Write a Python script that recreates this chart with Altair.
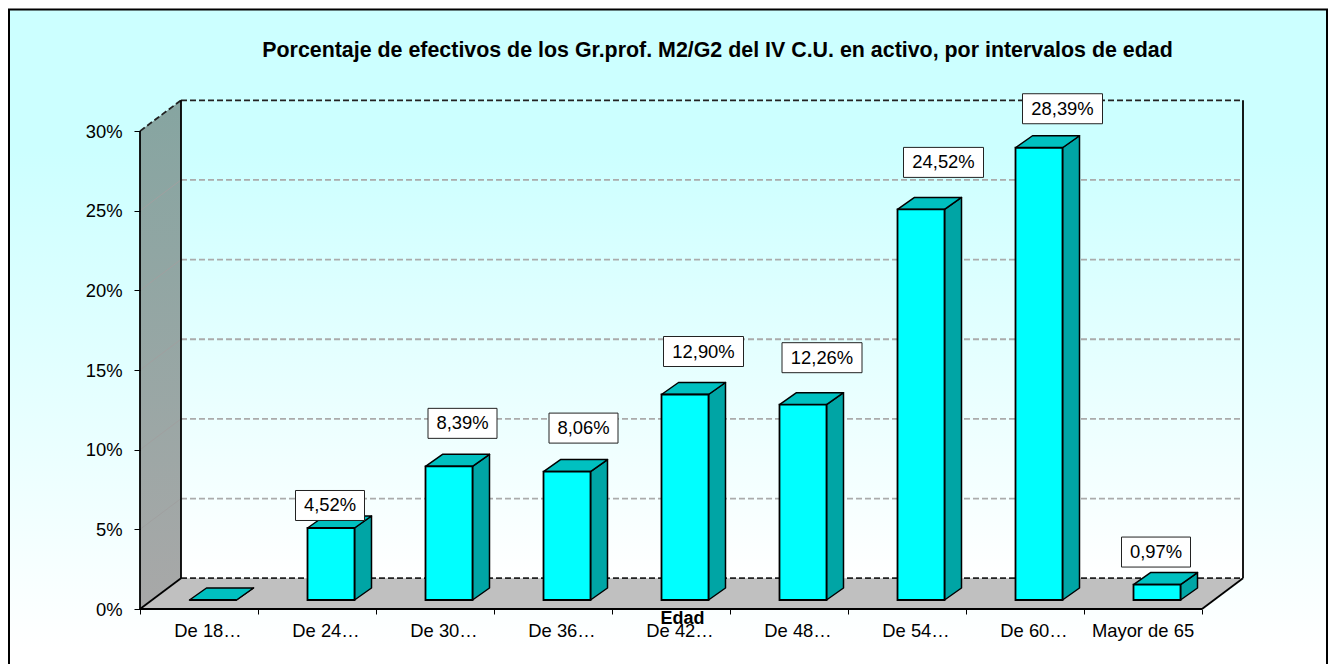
import altair as alt
import pandas as pd

# ---- chart values ----
categories = ["De 18…", "De 24…", "De 30…", "De 36…", "De 42…", "De 48…", "De 54…", "De 60…", "Mayor de 65"]
values = [0.0, 4.52, 8.39, 8.06, 12.90, 12.26, 24.52, 28.39, 0.97]
grid_values = [5, 10, 15, 20, 25, 30]
label_dx = [0, -1, 13.5, 16.5, 18.5, 19, 22.5, 23.5, -1]
label_dy = [0, -22.5, -43, -43.5, -43, -47, -47, -39, -32.5]

FONT = "Liberation Sans"
FS = 18.4
TITLE_FS = 21.4
X0, Y0 = 140.0, 609.0      # front-left corner of floor, in page pixels
UX, UY = 118.0, 15.93      # pixels per category, pixels per percent
DEPTH_X, DEPTH_Y = 41.0, 30.8
BAR_DX, BAR_DY = 17.0, 12.0
BAR_L, BAR_W, BAR_B = 49.5, 47.0, 9.0
PLOT_W, PLOT_H = 1103, 509


def dx(px):
    return px / UX


def dy(px):
    return px / UY


def X(x_px):
    return (x_px - X0) / UX


def Y(y_px):
    return (Y0 - y_px) / UY


xs = alt.Scale(domain=[0, PLOT_W / UX], nice=False, zero=False)
ys = alt.Scale(domain=[0, PLOT_H / UY], nice=False, zero=False)
x_axis = alt.Axis(
    values=list(range(len(categories) + 1)), labels=False, domain=False, grid=False,
    tickColor="#000000", tickSize=5, tickWidth=1, zindex=1,
    title="Edad", titleFont=FONT, titleFontSize=18, titleFontWeight="bold", titleColor="#000000",
    titleX=682 - X0, titleY=9, titleBaseline="middle", titleAlign="center",
)
y_axis = alt.Axis(
    values=[0] + grid_values, domain=False, grid=False, labelExpr="datum.value + '%'",
    tickColor="#000000", tickSize=6, tickWidth=1, zindex=1, title=None,
    labelFont=FONT, labelFontSize=FS, labelColor="#000000", labelPadding=12,
)
ex = alt.X("x:Q", scale=xs, axis=x_axis)
ey = alt.Y("y:Q", scale=ys, axis=y_axis)


def vgrad(stops):
    return alt.LinearGradient(
        gradient="linear", x1=0, x2=0, y1=0, y2=1,
        stops=[alt.GradientStop(color=c, offset=o) for o, c in stops],
    )


# --- frame ---
frame = pd.DataFrame([{"x": X(9), "x2": X(1327), "y": Y(680), "y2": Y(9.5)}])
frame_layer = alt.Chart(frame).mark_rect(
    fill=vgrad([(0, "#ccffff"), (0.21, "#ccffff"), (0.955, "#ffffff"), (1, "#ffffff")]),
    stroke="#000000", strokeWidth=2,
).encode(x=ex, x2="x2:Q", y=ey, y2="y2:Q")

depth_x = dx(DEPTH_X)
depth_y = dy(DEPTH_Y)
n = len(categories)

# --- back wall ---
back = pd.DataFrame([{"x": depth_x, "x2": n + depth_x, "y": depth_y, "y2": 30 + depth_y}])
back_layer = alt.Chart(back).mark_rect(
    fill=vgrad([(0, "#ccffff"), (0.1, "#ccffff"), (1, "#ffffff")])
).encode(x=ex, x2="x2:Q", y=ey, y2="y2:Q")

# --- left wall ---
wall = pd.DataFrame([
    {"x": 0, "y": 0, "y2": 30},
    {"x": depth_x, "y": depth_y, "y2": 30 + depth_y},
])
wall_layer = alt.Chart(wall).mark_area(
    fill=vgrad([(0, "#86a5a1"), (1, "#a8a8a8")])
).encode(x=ex, y=ey, y2="y2:Q")

# --- floor ---
floor = pd.DataFrame([
    {"x": 0, "y": 0, "y2": 0},
    {"x": depth_x, "y": 0, "y2": depth_y},
    {"x": n, "y": 0, "y2": depth_y},
    {"x": n + depth_x, "y": depth_y, "y2": depth_y},
])
floor_layer = alt.Chart(floor).mark_area(fill="#c0c0c0").encode(x=ex, y=ey, y2="y2:Q")

# --- grid on back wall ---
grid_back = pd.DataFrame([{"x": depth_x, "x2": n + depth_x, "y": v + depth_y} for v in grid_values[:-1]])
grid_back_layer = alt.Chart(grid_back).mark_rule(
    color="#ababab", strokeWidth=1.8, strokeDash=[6, 3]
).encode(x=ex, x2="x2:Q", y=ey)

grid_dark = pd.DataFrame([{"x": depth_x, "x2": n + depth_x, "y": v + depth_y} for v in [0, 30]])
grid_dark_layer = alt.Chart(grid_dark).mark_rule(
    color="#222222", strokeWidth=1.8, strokeDash=[6, 3]
).encode(x=ex, x2="x2:Q", y=ey)

# --- grid on left wall ---
grid_side = pd.DataFrame(
    [{"v": v, "x": 0, "y": v} for v in grid_values[:-1]]
    + [{"v": v, "x": depth_x, "y": v + depth_y} for v in grid_values[:-1]]
)
grid_side_layer = alt.Chart(grid_side).mark_line(color="#a0a0a0", strokeWidth=1).encode(x=ex, y=ey, detail="v:N")

top_diag = pd.DataFrame([{"x": 0, "y": 30}, {"x": depth_x, "y": 30 + depth_y}])
top_diag_layer = alt.Chart(top_diag).mark_line(
    color="#222222", strokeWidth=1.8, strokeDash=[6, 3]
).encode(x=ex, y=ey)

# --- solid edges ---
edges = pd.DataFrame(
    [{"e": "a", "x": 0, "y": 0}, {"e": "a", "x": 0, "y": 30}]
    + [{"e": "b", "x": depth_x, "y": depth_y}, {"e": "b", "x": depth_x, "y": 30 + depth_y}]
    + [{"e": "c", "x": n + depth_x, "y": depth_y}, {"e": "c", "x": n + depth_x, "y": 30 + depth_y}]
    + [{"e": "d", "x": 0, "y": 0}, {"e": "d", "x": depth_x, "y": depth_y}]
    + [{"e": "f", "x": n, "y": 0}, {"e": "f", "x": n + depth_x, "y": depth_y}]
    + [{"e": "g", "x": 0, "y": 0}, {"e": "g", "x": n, "y": 0}]
)
edges_layer = alt.Chart(edges).mark_line(color="#000000", strokeWidth=1.8).encode(x=ex, y=ey, detail="e:N")

# --- bars ---
front_rows, side_rows, top_rows = [], [], []
bx, by = dx(BAR_DX), dy(BAR_DY)
base = dy(BAR_B)
for i, v in enumerate(values):
    l = i + dx(BAR_L)
    r = l + dx(BAR_W)
    t = base + v
    front_rows.append({"x": l, "x2": r, "y": base, "y2": t})
    side_rows += [
        {"id": i, "x": r, "y": base, "y2": t},
        {"id": i, "x": r + bx, "y": base + by, "y2": t + by},
    ]
    top_rows += [
        {"id": i, "x": l, "y": t, "y2": t},
        {"id": i, "x": l + bx, "y": t, "y2": t + by},
        {"id": i, "x": r, "y": t, "y2": t + by},
        {"id": i, "x": r + bx, "y": t + by, "y2": t + by},
    ]
side_layer = alt.Chart(pd.DataFrame(side_rows)).mark_area(
    fill="#00a5a5", stroke="#000000", strokeWidth=1.5, strokeJoin="round"
).encode(x=ex, y=ey, y2="y2:Q", detail="id:N")
top_layer = alt.Chart(pd.DataFrame(top_rows)).mark_area(
    fill="#00c0c0", stroke="#000000", strokeWidth=1.5, strokeJoin="round"
).encode(x=ex, y=ey, y2="y2:Q", detail="id:N")
front_layer = alt.Chart(pd.DataFrame(front_rows)).mark_rect(
    fill="#00ffff", stroke="#000000", strokeWidth=1.8
).encode(x=ex, x2="x2:Q", y=ey, y2="y2:Q")

# --- value labels ---
label_rows = []
for i, v in enumerate(values):
    if v <= 0:
        continue
    txt = f"{v:.2f}".replace(".", ",") + "%"
    half = (80 if len(txt) > 5 else 69) / 2
    cx = i + dx(BAR_L + BAR_W / 2 + label_dx[i])
    cy = dy(BAR_B) + v - dy(label_dy[i])
    label_rows.append({"x": cx - dx(half), "x2": cx + dx(half), "xc": cx,
                       "y": cy - dy(15), "y2": cy + dy(15), "yc": cy, "t": txt})
labels = pd.DataFrame(label_rows)
box_layer = alt.Chart(labels).mark_rect(fill="#ffffff", stroke="#222222", strokeWidth=1).encode(
    x=ex, x2="x2:Q", y=ey, y2="y2:Q")
text_layer = alt.Chart(labels).mark_text(
    font=FONT, fontSize=FS, color="#000000", align="center", baseline="middle"
).encode(x=alt.X("xc:Q", scale=xs, axis=x_axis), y=alt.Y("yc:Q", scale=ys, axis=y_axis), text="t:N")

# --- category labels ---
cats = pd.DataFrame([
    {"x": i + 0.5 + (dx(9) if c.endswith("…") else 0), "t": c} for i, c in enumerate(categories)
])
cat_layer = alt.Chart(cats).mark_text(
    font=FONT, fontSize=FS, color="#000000", align="center", baseline="middle"
).encode(x=ex, y=alt.value(631 - 100), text="t:N")

chart = alt.layer(
    frame_layer, back_layer, wall_layer, floor_layer,
    grid_back_layer, grid_side_layer, grid_dark_layer, top_diag_layer, edges_layer,
    side_layer, top_layer, front_layer, box_layer, text_layer, cat_layer,
).properties(
    width=PLOT_W, height=PLOT_H,
    title=alt.TitleParams(
        "Porcentaje de efectivos de los Gr.prof. M2/G2 del IV C.U. en activo, por intervalos de edad",
        anchor="middle", dx=26, offset=-53, font=FONT, fontSize=TITLE_FS, fontWeight="bold", color="#000000",
    ),
    autosize=alt.AutoSizeParams(type="none"),
    padding={"left": 132, "top": 92, "right": 85, "bottom": 55},
).configure_view(stroke=None)

chart.save("out.html", embed_options={"renderer": "svg", "actions": False})
